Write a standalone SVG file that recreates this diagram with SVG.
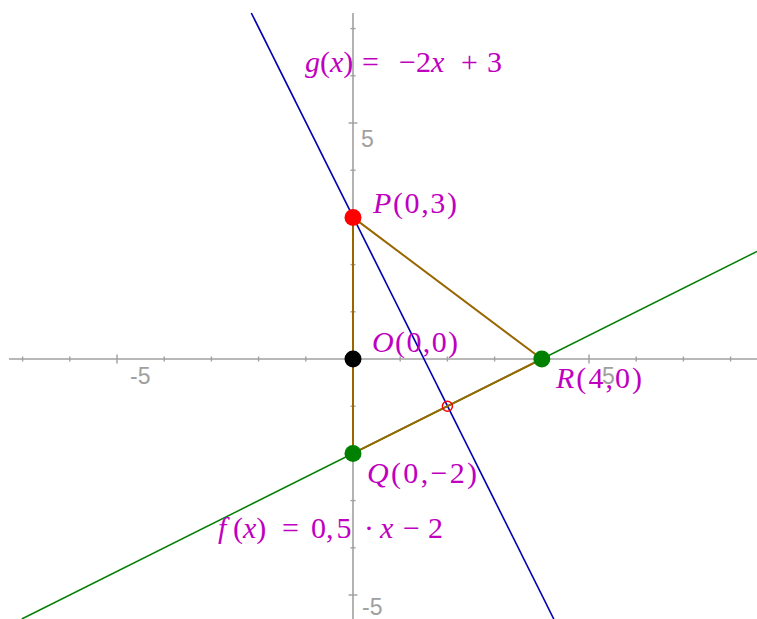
<svg xmlns="http://www.w3.org/2000/svg" width="757" height="619" viewBox="0 0 757 619">
<style>
.axis{stroke:#a0a0a0;stroke-width:1.6;fill:none}
.tick{stroke:#a0a0a0;stroke-width:1.4}
.tl{font-family:"Liberation Sans",Arial,sans-serif;font-size:23px;fill:#a0a0a0}
.lbl{font-family:"Liberation Serif","Times New Roman",serif;font-size:30px;fill:#bf00bf}
.it{font-style:italic}
.pt{stroke:none}
</style>
<rect width="757" height="619" fill="#ffffff"/>
<g id="axes">
<line class="axis" x1="9" y1="359" x2="757" y2="359"/>
<line class="axis" x1="353" y1="13" x2="353" y2="619"/>
<g class="tick">
<line x1="22.6" y1="356.5" x2="22.6" y2="361.5"/>
<line x1="69.8" y1="356.5" x2="69.8" y2="361.5"/>
<line x1="117" y1="354.5" x2="117" y2="363.5"/>
<line x1="164.2" y1="356.5" x2="164.2" y2="361.5"/>
<line x1="211.4" y1="356.5" x2="211.4" y2="361.5"/>
<line x1="258.6" y1="356.5" x2="258.6" y2="361.5"/>
<line x1="305.8" y1="356.5" x2="305.8" y2="361.5"/>
<line x1="400.2" y1="356.5" x2="400.2" y2="361.5"/>
<line x1="447.4" y1="356.5" x2="447.4" y2="361.5"/>
<line x1="494.6" y1="356.5" x2="494.6" y2="361.5"/>
<line x1="541.8" y1="356.5" x2="541.8" y2="361.5"/>
<line x1="589" y1="354.5" x2="589" y2="363.5"/>
<line x1="636.2" y1="356.5" x2="636.2" y2="361.5"/>
<line x1="683.4" y1="356.5" x2="683.4" y2="361.5"/>
<line x1="730.6" y1="356.5" x2="730.6" y2="361.5"/>
<line x1="350.5" y1="28.6" x2="355.5" y2="28.6"/>
<line x1="350.5" y1="75.8" x2="355.5" y2="75.8"/>
<line x1="348.5" y1="123" x2="357.5" y2="123"/>
<line x1="350.5" y1="170.2" x2="355.5" y2="170.2"/>
<line x1="350.5" y1="217.4" x2="355.5" y2="217.4"/>
<line x1="350.5" y1="264.6" x2="355.5" y2="264.6"/>
<line x1="350.5" y1="311.8" x2="355.5" y2="311.8"/>
<line x1="350.5" y1="406.2" x2="355.5" y2="406.2"/>
<line x1="350.5" y1="453.4" x2="355.5" y2="453.4"/>
<line x1="350.5" y1="500.6" x2="355.5" y2="500.6"/>
<line x1="350.5" y1="547.8" x2="355.5" y2="547.8"/>
<line x1="348.5" y1="595" x2="357.5" y2="595"/>
</g>
</g>
<g id="connectors">
<line id="g-line" x1="251.3" y1="13" x2="553.8" y2="619" stroke="#0000b3" stroke-width="1.6"/>
<line id="f-line" x1="21.8" y1="619" x2="757" y2="251.4" stroke="#008000" stroke-width="1.5"/>
<polygon id="triangle" points="353,217.4 541.8,359 353,453.4" fill="none" stroke="#996600" stroke-width="2" stroke-linejoin="round"/>
</g>
<g id="labels-eq">
<text class="lbl" y="72"><tspan x="305" class="it">g</tspan><tspan>(</tspan><tspan class="it">x</tspan><tspan>)</tspan><tspan x="362">=</tspan><tspan x="399">−2</tspan><tspan class="it">x</tspan><tspan x="461">+</tspan><tspan x="487">3</tspan></text>
<text class="lbl" y="538"><tspan x="218" class="it">f</tspan><tspan x="233">(</tspan><tspan class="it">x</tspan><tspan>)</tspan><tspan x="282">=</tspan><tspan x="311">0,</tspan><tspan dx="3">5</tspan><tspan x="364">·</tspan><tspan x="380" class="it">x</tspan><tspan x="403">−</tspan><tspan x="428">2</tspan></text>
</g>
<g id="P">
<circle class="pt" cx="353" cy="217.4" r="8.5" fill="#ff0000"/>
<text class="lbl" x="373" y="213" textLength="84" lengthAdjust="spacing"><tspan class="it">P</tspan>(0,3)</text>
</g>
<g id="O">
<circle class="pt" cx="353" cy="359" r="8.5" fill="#000000"/>
<text class="lbl" x="372" y="352" textLength="86" lengthAdjust="spacing"><tspan class="it">O</tspan>(0,0)</text>
</g>
<g id="R">
<circle class="pt" cx="541.8" cy="359" r="8.5" fill="#008000"/>
<text class="lbl" x="556" y="388" textLength="86" lengthAdjust="spacing"><tspan class="it">R</tspan>(4,0)</text>
</g>
<g id="Q">
<circle class="pt" cx="353" cy="453.4" r="8.5" fill="#008000"/>
<text class="lbl" x="367" y="483" textLength="110" lengthAdjust="spacing"><tspan class="it">Q</tspan>(0,−2)</text>
</g>
<g id="S">
<circle cx="447.4" cy="406.2" r="5" fill="none" stroke="#ff0000" stroke-width="1.5"/>
</g>
<g id="tick-labels">
<text class="tl" x="130" y="384">-5</text>
<text class="tl" x="602" y="384">5</text>
<text class="tl" x="361" y="147">5</text>
<text class="tl" x="362" y="615">-5</text>
</g>
</svg>
